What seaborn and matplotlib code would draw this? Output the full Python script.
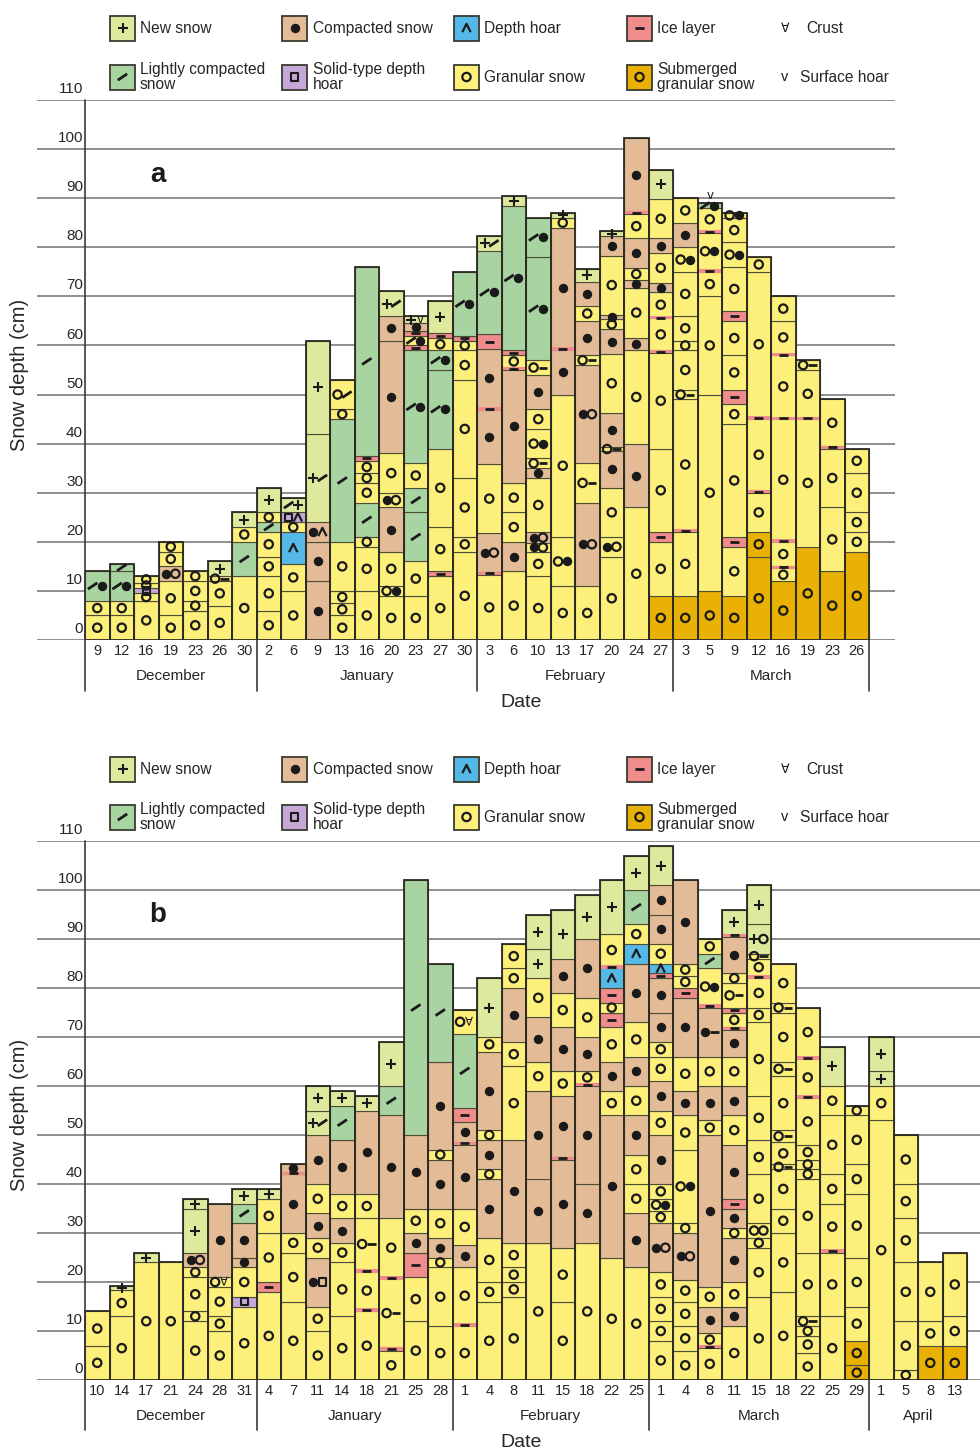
import re
import numpy as np
import matplotlib
matplotlib.use("Agg")
import matplotlib.pyplot as plt
from matplotlib.patches import Rectangle
from matplotlib.path import Path
import seaborn as sns

sns.set_theme(style="white")
plt.rcParams['font.family'] = ['Liberation Sans', 'DejaVu Sans']

# ------------------------------------------------------------------ data
# layer tokens, bottom -> top: <type><thickness cm>[:<symbols>]
# N new snow, L lightly compacted, C compacted, D depth hoar, S solid-type depth hoar,
# G granular, I ice layer, M submerged granular, V surface hoar, K crust, X marker only
dates_a = [9, 12, 16, 19, 23, 26, 30,
           2, 6, 9, 13, 16, 20, 23, 27, 30,
           3, 6, 10, 13, 17, 20, 24, 27,
           3, 5, 9, 12, 16, 19, 23, 26]
months_a = ["December", "January", "February", "March"]
month_counts_a = [7, 9, 8, 8]
profiles_a = [
    "G5 G3 L6:LC",
    "G5 G3 L6:LC L1.5",
    "G8 G1.5 S1 G1.2 G1.3",
    "G5 G7 C3:CG G3 G2",
    "G6 G2 G4 G2",
    "G7 G5 G1:GI N3",
    "G13 L7 G3 N3",
    "G6 G7 G4 G5 L2 G2 N5",
    "G10 G5.5 D6.5 G2 S2:SD N3:LN",
    "C12 C8 C4:CD N18:NL N19",
    "G5 G2.5 G2.5 G10 L25 G2 G6:GL",
    "G10 G9 G2 L7 G4 G2 G2.5 I1 L38.5",
    "G9 G2:GC G7 C9 G3:CG G8 C23 C5 N5:NL",
    "G9 G7 L10 L5 G5 L23:LC I1 G2:LC I1 C1.5 N1.5:NV",
    "G13 I1 G9 G16 L16:LC L4:LC G2.5 I1 N6.5",
    "G18 G3 G12 G20 G6 G2 I1 L13:LC",
    "G13.3 I0.5 C8:CG G14 C11 I0.5 C12 I3 L17:LC N3:NL",
    "G14 C6 G6 G6 C23 I0.5 G2.5 I1 L29.5:LC N2",
    "G13 G5 G1.7:CG C2.3:CG G11 C2 G2:GI G6:GC G4 C7 G3:GI L21:LC L8:LC",
    "G11 G10:GC G29 C9 I0.5 C24.5 G2 N1",
    "G11 C17:CG G8:GI C20:CG G2:GI C7 G3 C5 N2.5",
    "G17 G4:CG G10 C7.5 G0.8:GI C7 G12 C5 G2 C1 G12 C4 N1",
    "G27 C13 G19 C2.6 G10.2 C1.5 G2.5 C6 G5 I0.5 C15",
    "M9 G11 I2 G17 G19.5 I0.5 G6.5 I0.3 G5 C2 G6 C3 G8 N6",
    "M9 G13 I0.5 G26.5 G2:GI G8 G2 G5 G9 G5:GC C5 G5",
    "M10 G40 G20 G5 I0.4 G7.6:GC I0.4 G4.6 L1:LC X0:V",
    "M9 G10 I2 G23 G4 I3 G7 G7 I2 G9 G5:GC G5 G1:GC",
    "M17 M5 G8 I0.5 G14.5 I0.5 G29.5 G3",
    "M12 G2.6 I0.4 G5 I0.3 G24.7 I0.3 G12.7 I0.3 G6.7 G5",
    "M19 G26 I0.3 G9.7 G2:GI",
    "M14 G13 G12 I0.5 G9.5",
    "M18 G4 G4 G8 G5",
]

dates_b = [10, 14, 17, 21, 24, 28, 31,
           4, 7, 11, 14, 18, 21, 25, 28,
           1, 4, 8, 11, 15, 18, 22, 25,
           1, 4, 8, 11, 15, 18, 22, 25, 29,
           1, 5, 8, 13]
months_b = ["December", "January", "February", "March", "April"]
month_counts_b = [7, 8, 8, 9, 4]
profiles_b = [
    "G7 G7",
    "G13 G5.4 N0.8",
    "G24 N2",
    "G24",
    "G12 G2 G7 G2 C3:CG N9 N2",
    "G10 G3 G6 G2:GK C15",
    "G15 S2 G6 C2 C7 L4 N3",
    "G18 I2 G10 G7 N2",
    "G16 G10 G4 C12 I0.4 C1.6",
    "G10 G5 C10:CS G4 C5 G6 C10 N5:NL N5",
    "G13 G11 G4 C5 G5 C11 L7 N3",
    "G14 I0.5 G7.5 I0.5 G10.5:GI G5 C17 N3",
    "G6 I0.7 G13.9:GI I0.4 G12 C21 L6 N9",
    "G12 G9 I5 C4 G5 C15 L52",
    "G11 G12 G2 C4 G6 C10 G2 C18 L20",
    "G11 I0.4 G11.6 C4.5 G7.5 C13 I0.6 C4 I3 L15 G5:GK",
    "G16 G4 G9 C12 G2 C6 G2 C16 G3 N12",
    "G17 G3 G3 G5 C21 G15 G5 C11 G4 G5",
    "G28 C13 C18 G6 C9 G8 N6 N7",
    "G16 G11 C18 I0.5 C12.5 G5 C9 G7 C7 N10",
    "G28 C12 C20 I0.5 G2.5 C7 G8 C12 N9",
    "G25 C29 G5 C6 G7 I3 G2 I3 D4 I0.5 G6.5 N11",
    "G23 C11 G6 G6 C8 G6 C6 G7 C12 D4 G4 L7 N7",
    "G8 G4 G5 G5 C10:CG G2.5 G2.5:GC G3 C10 G5 C6 G5 G3 C6 C7 I1 D2 G4 C6 C6 N8",
    "G6 G5 G5 G4.5 C9.5:CG G2 G15:GC G7 C5 G7 C12 I2 G2.5 G2.5 C17",
    "G6.6 I0.4 G2.5 C5.5 G4 C31 G3 C7 G6 C10:CI I0.6 G7.4:GC L3 G3",
    "G11 C4 G5 C9 G2 C4 I2 C11 G6 C6 G6 C5.5 I0.5 G3 I1 G5:GI G2 C7.5 I0.5 N5",
    "G17 G10 G2 G3:GG G10 G7 G9 G15 G3 G6 I0.5 G3.5 G1:GI N6:NG N8",
    "G18 G12 G5 G8 G1:GI G4.5 G2.5:GI G11 G3:GI G10 G2:GI G8",
    "G5.5 G3.5 G2 G2:GI G13 G15 G2 G2 G3 G9.5 I0.5 G7.5 I0.5 G10",
    "G13 G13 I0.6 G9.4 G6 G12 G6 N8",
    "M3 M5 G7 G10 G13 G6 G10 G2",
    "G53 G7 N3 N7",
    "G2 G10 G12 G9 G7 G10",
    "M7 G5 G12",
    "M7 G6 G13",
]

yticks = list(range(0, 111, 10))
legend_row1 = [("N", "New snow"), ("C", "Compacted snow"), ("D", "Depth hoar"), ("I", "Ice layer")]
legend_row2 = [("L", "Lightly compacted\nsnow"), ("S", "Solid-type depth\nhoar"),
               ("G", "Granular snow"), ("M", "Submerged\ngranular snow")]
legend_extra = [("K", "Crust"), ("V", "Surface hoar")]

# ------------------------------------------------------------------ style
FILL = {"N": "#dfe99e", "L": "#a8d4a2", "C": "#e3bc97", "D": "#55b9e8",
        "S": "#c6a8d8", "G": "#fcef7a", "I": "#f08c8c", "M": "#e8b104"}
SYMKIND = {"G": "open", "M": "open", "C": "dot", "N": "plus", "L": "slash",
           "D": "hoar", "S": "square", "I": "dash", "V": "v", "K": "crust"}
EDGE = "#4d4d38"
OUTLINE = "#2e2b22"
GRID = "#707070"
TXT = "#262626"
PX = 24.5          # pixel width of one profile column

SLASH = Path([(-0.6, -0.4), (0.6, 0.4)], [Path.MOVETO, Path.LINETO])
HOAR = Path([(-0.5, -0.5), (0, 0.5), (0.5, -0.5)], [Path.MOVETO, Path.LINETO, Path.LINETO])
DASH = Path([(-0.5, 0), (0.5, 0)], [Path.MOVETO, Path.LINETO])
MARK = {
    "open": dict(marker="o", s=36, facecolor="none", linewidth=1.6),
    "dot": dict(marker="o", s=46, linewidth=0),
    "plus": dict(marker="+", s=62, linewidth=1.5),
    "slash": dict(marker=SLASH, s=46, facecolor="none", linewidth=2.0),
    "hoar": dict(marker=HOAR, s=36, facecolor="none", linewidth=1.6),
    "square": dict(marker="s", s=28, facecolor="none", linewidth=1.5),
    "dash": dict(marker=DASH, s=40, facecolor="none", linewidth=2.0),
}
TOKEN = re.compile(r"^([A-Z])([\d.]+)(?::([A-Z]+))?$")


def parse(profile):
    out = []
    for tok in profile.split():
        m = TOKEN.match(tok)
        out.append((m.group(1), float(m.group(2)), m.group(3) or m.group(1)))
    return out


def draw_symbols(ax, pts, scale=1.0):
    for kind, xy in pts.items():
        if not xy:
            continue
        if kind in ("v", "crust"):
            for x, y in xy:
                ax.text(x, y, "v" if kind == "v" else "\u2200", ha="center", va="center",
                        fontsize=8.5 * scale, color="k", zorder=6,
                        family=["DejaVu Sans"])
            continue
        kw = dict(MARK[kind])
        kw["s"] = kw["s"] * scale
        sns.scatterplot(x=[p[0] for p in xy], y=[p[1] for p in xy], ax=ax, color="k",
                        edgecolor="k", legend=False, zorder=5, **kw)


def draw_panel(ax, dates, months, counts, profiles, right_px, letter, end_line):
    n = len(dates)
    xlim = ((37 - 85) / PX, (right_px - 85) / PX)
    ax.set_xlim(*xlim)
    ax.set_ylim(0, 110)
    ax.axis("off")
    for v in yticks:
        ax.axhline(v, color=GRID, lw=1.1, zorder=1)
        ax.text(-0.08, v + 0.8, str(v), ha="right", va="bottom", fontsize=11, color=TXT)

    xs, hs, bs, cs = [], [], [], []
    ix, ih, ib = [], [], []
    pts = {}
    tops = []
    for i, prof in enumerate(profiles):
        b = 0.0
        xc = i + 0.5
        for typ, t, sy in parse(prof):
            if t > 0:
                if typ == "I" and t < 0.8:
                    h = 0.7
                    ix.append(xc); ih.append(h); ib.append(b + t / 2 - h / 2)
                else:
                    xs.append(xc); hs.append(t); bs.append(b); cs.append(FILL[typ])
            yc = b + t / 2 if t > 0 else b + 1.5
            offs = (np.arange(len(sy)) - (len(sy) - 1) / 2) * 0.38
            for k, s in enumerate(sy):
                pts.setdefault(SYMKIND[s], []).append((xc + offs[k], yc))
            b += t
        tops.append(b)
    ax.bar(xs, hs, bottom=bs, width=1, color=cs, edgecolor=EDGE, linewidth=0.8, zorder=2)
    ax.bar(ix, ih, bottom=ib, width=1, color=FILL["I"], linewidth=0, zorder=2.5)
    ax.bar(np.arange(n) + 0.5, tops, width=1, fill=False, edgecolor=OUTLINE,
           linewidth=1.3, zorder=3)
    draw_symbols(ax, pts)

    # date axis below
    lo = -10.3
    sep = np.cumsum([0] + list(counts))
    ax.plot([0, 0], [110, lo], color="#3a3a3a", lw=1.2, clip_on=False, zorder=3)
    for k, s in enumerate(sep[1:]):
        if k == len(sep) - 2 and not end_line:
            continue
        ax.plot([s, s], [0, lo], color="#3a3a3a", lw=1.2, clip_on=False, zorder=3)
    for i, d in enumerate(dates):
        ax.text(i + 0.5, -2.3, str(d), ha="center", va="center", fontsize=10.5, color=TXT)
    for k, mname in enumerate(months):
        ax.text((sep[k] + sep[k + 1]) / 2, -7.4, mname, ha="center", va="center",
                fontsize=11, color=TXT)
    ax.text((521 - 85) / PX, -12.8, "Date", ha="center", va="center", fontsize=14, color=TXT)
    ax.text((158 - 85) / PX, 94.8, letter, ha="center", va="center", fontsize=20,
            fontweight="bold", color="k")
    ax.set_xlim(*xlim)
    ax.set_ylim(0, 110)


def draw_legend(lg, r1, r2):
    box_x = [110, 282, 454, 627]
    text_x = [140, 313, 484, 657]
    pts = {}
    for row, yc in ((legend_row1, r1), (legend_row2, r2)):
        for k, (typ, label) in enumerate(row):
            lg.add_patch(Rectangle((box_x[k], yc - 12.5), 25, 25, facecolor=FILL[typ],
                                   edgecolor="#3a3a30", lw=1.3, zorder=3))
            pts.setdefault(SYMKIND[typ], []).append((box_x[k] + 12.5, yc))
            lg.text(text_x[k], yc, label, ha="left", va="center", fontsize=11.2,
                    color=TXT, linespacing=0.95)
    lg.text(785, r1, "\u2200", ha="center", va="center", fontsize=9, color="k",
            family=["DejaVu Sans"])
    lg.text(806, r1, legend_extra[0][1], ha="left", va="center", fontsize=11.2, color=TXT)
    lg.text(785, r2, "v", ha="center", va="center", fontsize=10.5, color="k")
    lg.text(800, r2, legend_extra[1][1], ha="left", va="center", fontsize=11.2, color=TXT)
    draw_symbols(lg, pts)


fig = plt.figure(figsize=(9.8, 14.5), dpi=100)
W, H = 980.0, 1450.0

ax_a = fig.add_axes([37 / W, 1 - 640 / H, (895 - 37) / W, 540 / H])
draw_panel(ax_a, dates_a, months_a, month_counts_a, profiles_a, 895, "a", True)

ax_b = fig.add_axes([37 / W, 1 - 1380 / H, (980 - 37) / W, 539 / H])
draw_panel(ax_b, dates_b, months_b, month_counts_b, profiles_b, 980, "b", False)

fig.text(20 / W, 1 - 375 / H, "Snow depth (cm)", rotation=90, ha="center", va="center",
         fontsize=14.5, color=TXT)
fig.text(20 / W, 1 - 1115 / H, "Snow depth (cm)", rotation=90, ha="center", va="center",
         fontsize=14.5, color=TXT)

lg = fig.add_axes([0, 0, 1, 1])
lg.patch.set_alpha(0)
lg.axis("off")
draw_legend(lg, 28, 77)
draw_legend(lg, 769, 817)
lg.set_xlim(0, W)
lg.set_ylim(H, 0)

fig.savefig("out.png", dpi=100)
